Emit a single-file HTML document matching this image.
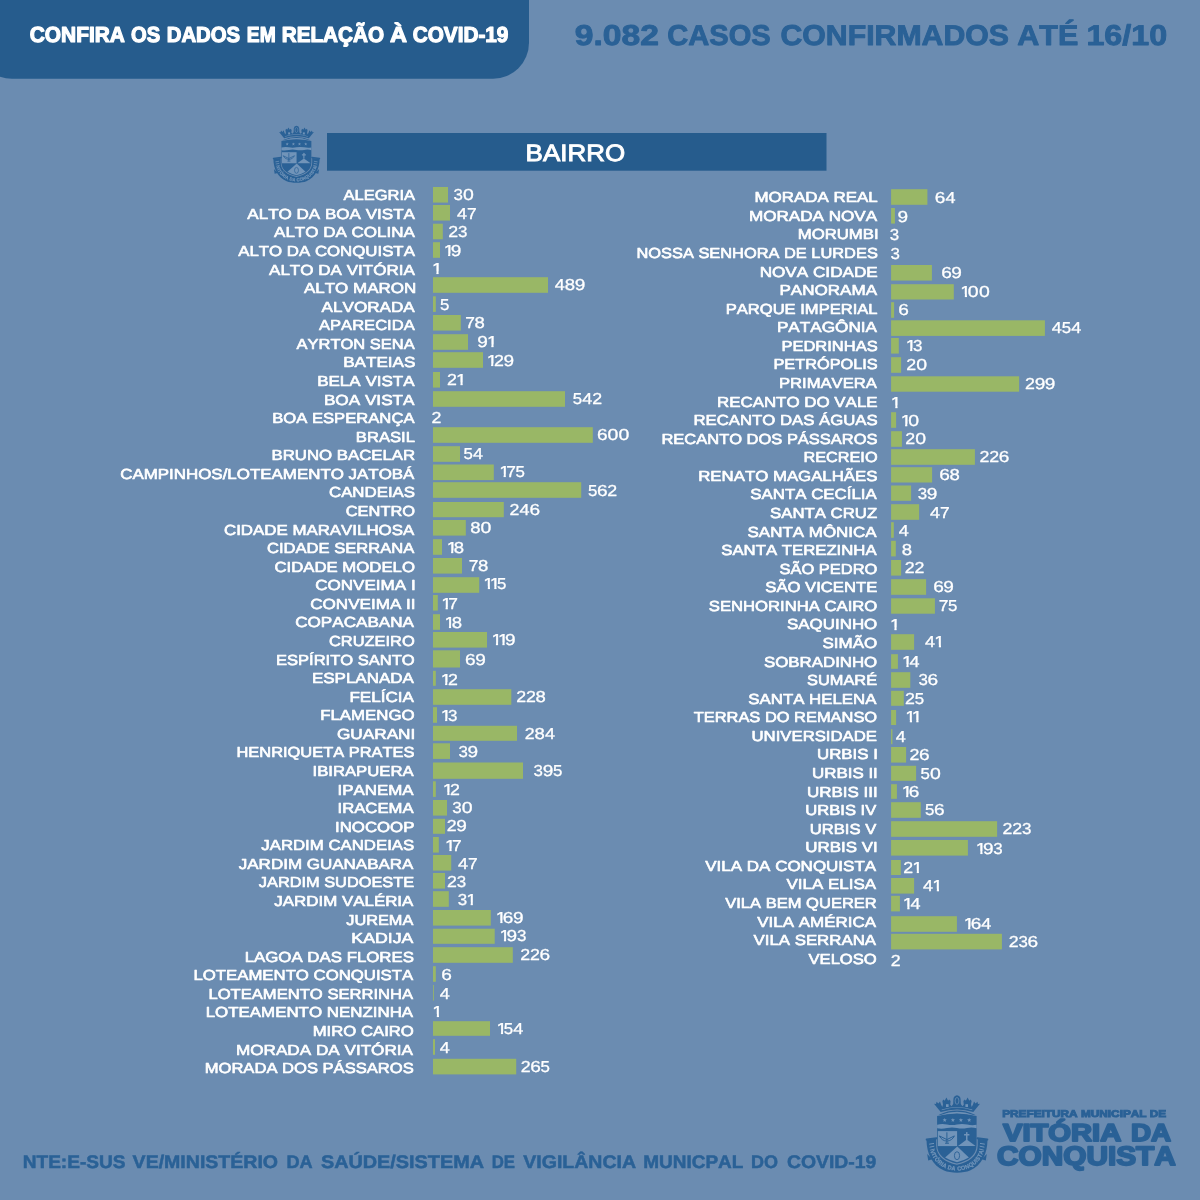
<!DOCTYPE html>
<html lang="pt-BR"><head><meta charset="utf-8"><title>COVID-19 - Bairros</title>
<style>
html,body{margin:0;padding:0;background:#6b8cb1;}
body{width:1200px;height:1200px;overflow:hidden;font-family:"Liberation Sans",sans-serif;}
svg{display:block;will-change:transform;font-family:"Liberation Sans",sans-serif;font-kerning:none;text-rendering:geometricPrecision;}
.lab text{font-size:14.6px;fill:#fff;stroke:#fff;stroke-width:0.65px;stroke-linejoin:round;}
.num text{font-size:15.9px;fill:#fff;stroke:#fff;stroke-width:0.3px;stroke-linejoin:round;}
.bars rect{fill:#99b766;}
</style></head><body>
<svg width="1200" height="1200" viewBox="0 0 1200 1200">
<defs>
<clipPath id="c1"><path d="M-3,-20 H20 V-2.19 H5.60 V1 H3.80 V-2.19 H-3 Z"/></clipPath>
<path id="ribbonpath" d="M5.2,46.5 C5.2,64 17,72.9 31,73.7 C45,72.9 56.8,64 56.8,46.5" fill="none"/>
<g id="crest">
 <g fill="#2a6196" stroke="none">
  <!-- crown -->
  <path d="M14.7,17 L9.6,10.8 L8,8.7 L10,9 L10.6,6.8 L12.4,8.6 L14,6.4 L15,9.4 L16.3,12 L17,9.6 L16.4,6 L17.6,4.4 L18.7,5.7 L20.4,2.6 L22.1,5.7 L23.2,4.4 L24.6,6 L24.2,9.7 L25.6,11.2 L27.2,9 L27.4,4 Q27.7,0.8 31,0.3 Q34.3,0.8 34.6,4 L34.8,9 L36.4,11.2 L37.8,9.7 L37.4,6 L38.8,4.4 L39.9,5.7 L41.6,2.6 L43.3,5.7 L44.4,4.4 L45.6,6 L45,9.6 L45.7,12 L47,9.4 L48,6.4 L49.6,8.6 L51.4,6.8 L52,9 L54,8.7 L52.4,10.8 L47.3,17 Q31,11.8 14.7,17 Z"/>
  <!-- thin arc -->
  <path d="M12.6,19.9 Q31,11.3 49.4,19.9 L47.4,19.9 Q31,13.7 14.6,19.9 Z"/>
  <!-- shield -->
  <path d="M11.1,21 Q31,15.8 50.6,21 V50 C50.6,60.5 42,66.2 30.9,68.4 C19.8,66.2 11.1,60.5 11.1,50 Z"/>
  <!-- ribbon -->
  <path d="M0.5,45 C0.7,58.5 6,70.2 18,75.6 C24.5,78.3 37.5,78.3 44,75.6 C56,70.2 61.3,58.5 61.5,45 L51.7,43.8 V50.2 C51.7,61.2 42.6,67.4 30.9,69.7 C19.3,67.4 10.2,61.2 10.2,50.2 V43.8 Z"/>
  <path d="M1.2,59 L2.2,65.4 L6.4,64.2 Z M60.8,59 L59.8,65.4 L55.6,64.2 Z"/>
 </g>
 <path d="M0.7,44.6 L10.6,43.3 M51.4,43.3 L61.3,44.6" stroke="#2a6196" stroke-width="2" stroke-linecap="round" fill="none"/>
 <g fill="#7194b9" stroke="none">
  <!-- crown details -->
  <rect x="20" y="9.2" width="2.6" height="2.8"/><rect x="39.4" y="9.2" width="2.6" height="2.8"/>
  <path d="M15.6,15.2 Q31,9.9 46.4,15.2 L46.2,14.6 Q31,9.2 15.8,14.6 Z"/>
  <path d="M14.2,20.4 Q31,13.9 47.8,20.4 L48.8,20.6 Q31,15.2 13.2,20.6 Z"/>
  <!-- stars -->
  <path id="st" d="M18.7,22.9 L19.25,24.35 L20.8,24.42 L19.58,25.38 L20,26.9 L18.7,26.02 L17.4,26.9 L17.82,25.38 L16.6,24.42 L18.15,24.35 Z"/>
  <use href="#st" x="8.2"/><use href="#st" x="16.2"/><use href="#st" x="24.5"/>
  <!-- wavy band -->
  <path d="M11.1,29.7 Q16,28.3 21,29.5 T31,29.5 T41,29.5 T50.6,29.7 V33.3 Q46,31.9 41,33 T31,33 T21,33 T11.1,33.3 Z"/>
  <!-- left quadrant -->
  <rect x="11.8" y="36.1" width="19.3" height="15"/>
  <!-- cross + hill -->
  <rect x="40" y="37" width="1.5" height="8" rx="0.6"/><rect x="38" y="39" width="5.5" height="1.5" rx="0.6"/>
  <path d="M40.75,44.6 L49.6,51.1 H32 Z"/>
  <!-- lower triangle -->
  <path d="M31.3,51.4 L42.9,62.6 Q37.4,66 31,67.2 Q24.6,66 19.1,62.6 Z"/>
 </g>
 <path d="M3.2,49.2 L8,48.4 M3.6,52.2 L8.3,51.2 M4.2,55.2 L8.8,54 M58.8,49.2 L54,48.4 M58.4,52.2 L53.7,51.2 M57.8,55.2 L53.2,54" stroke="#7194b9" stroke-width="1" fill="none"/>
 <ellipse cx="31" cy="5.9" rx="1.9" ry="3.4" fill="none" stroke="#7194b9" stroke-width="0.7"/>
 <!-- crossbow + emblem -->
 <g stroke="#2a6196" stroke-width="1" fill="none">
  <path d="M20.9,37.3 V48.4 M13.4,40.9 Q15.6,45.6 20.9,46.2 Q26.2,45.6 28.4,40.9 M13.4,40.9 L20.9,44.6 L28.4,40.9 M19,48.2 H23"/>
  <ellipse cx="31" cy="60.7" rx="2.6" ry="4" stroke-width="0.9"/>
 </g>
 <text font-size="5.9" font-weight="700" fill="#7194b9" stroke="#7194b9" stroke-width="0.25"><textPath href="#ribbonpath" startOffset="50%" text-anchor="middle" textLength="66" lengthAdjust="spacingAndGlyphs"><tspan dy="2.1">VITÓRIA DA CONQUISTA</tspan></textPath></text>
</g>

</defs>
<rect width="1200" height="1200" fill="#6b8cb1"/>
<!-- top-left banner -->
<rect x="-24" y="-40" width="553" height="118.7" rx="36" ry="36" fill="#265c8d"/>
<g font-size="21.8" font-weight="700" fill="#fff" stroke="#fff" stroke-width="1.2" stroke-linejoin="round"><text x="29.74" y="42.00" textLength="95.21" lengthAdjust="spacingAndGlyphs">CONFIRA</text>
<text x="131.02" y="42.00" textLength="29.17" lengthAdjust="spacingAndGlyphs">OS</text>
<text x="166.74" y="42.00" textLength="73.46" lengthAdjust="spacingAndGlyphs">DADOS</text>
<text x="246.81" y="42.00" textLength="28.88" lengthAdjust="spacingAndGlyphs">EM</text>
<text x="281.72" y="42.00" textLength="102.30" lengthAdjust="spacingAndGlyphs">RELAÇÃO</text>
<text x="390.01" y="42.00" textLength="17.01" lengthAdjust="spacingAndGlyphs">À</text>
<text x="412.75" y="42.00" textLength="95.67" lengthAdjust="spacingAndGlyphs">COVID-19</text></g>
<!-- title -->
<g font-size="28.6" font-weight="700" fill="#2a6196" stroke="#2a6196" stroke-width="0.9" stroke-linejoin="round"><text x="574.78" y="44.70" textLength="84.11" lengthAdjust="spacingAndGlyphs">9.082</text>
<text x="667.26" y="44.70" textLength="103.43" lengthAdjust="spacingAndGlyphs">CASOS</text>
<text x="780.46" y="44.70" textLength="228.52" lengthAdjust="spacingAndGlyphs">CONFIRMADOS</text>
<text x="1017.19" y="44.70" textLength="61.05" lengthAdjust="spacingAndGlyphs">ATÉ</text>
<text x="1086.42" y="44.70" textLength="80.70" lengthAdjust="spacingAndGlyphs">16/10</text></g>
<!-- bairro header -->
<rect x="327" y="133" width="499.5" height="37.7" fill="#265c8d"/>
<g font-size="23.6" fill="#fff" stroke="#fff" stroke-width="0.9"><text x="525.62" y="161.00" textLength="99.47" lengthAdjust="spacingAndGlyphs">BAIRRO</text></g>
<use href="#crest" transform="translate(273,125.6) scale(0.758,0.737)"/>
<g class="bars">
<rect x="433.00" y="187.00" width="15.00" height="15.60"/>
<rect x="433.00" y="205.00" width="17.00" height="15.60"/>
<rect x="433.00" y="223.70" width="9.80" height="15.60"/>
<rect x="433.00" y="242.20" width="7.00" height="15.60"/>
<rect x="433.00" y="277.20" width="115.00" height="15.60"/>
<rect x="433.00" y="296.30" width="2.80" height="15.60"/>
<rect x="433.00" y="315.00" width="27.80" height="15.60"/>
<rect x="433.00" y="334.20" width="35.00" height="15.60"/>
<rect x="433.00" y="352.20" width="50.00" height="15.60"/>
<rect x="433.00" y="372.00" width="7.00" height="15.60"/>
<rect x="433.00" y="391.20" width="132.00" height="15.60"/>
<rect x="433.00" y="427.20" width="159.80" height="15.60"/>
<rect x="433.00" y="446.20" width="27.00" height="15.60"/>
<rect x="433.00" y="464.50" width="60.80" height="15.60"/>
<rect x="433.00" y="482.20" width="148.20" height="15.60"/>
<rect x="433.00" y="502.00" width="70.80" height="15.20"/>
<rect x="433.00" y="520.00" width="32.80" height="15.60"/>
<rect x="433.00" y="539.20" width="9.00" height="15.60"/>
<rect x="433.00" y="558.00" width="29.00" height="15.60"/>
<rect x="433.00" y="577.20" width="46.20" height="15.60"/>
<rect x="433.00" y="595.00" width="4.80" height="15.60"/>
<rect x="433.00" y="614.20" width="7.00" height="15.60"/>
<rect x="433.00" y="632.00" width="54.00" height="15.60"/>
<rect x="433.00" y="650.30" width="27.00" height="17.20"/>
<rect x="433.00" y="670.80" width="2.80" height="15.00"/>
<rect x="433.00" y="689.20" width="78.30" height="15.60"/>
<rect x="433.00" y="707.20" width="4.00" height="15.60"/>
<rect x="433.00" y="725.80" width="84.00" height="15.00"/>
<rect x="433.00" y="743.30" width="17.00" height="15.60"/>
<rect x="433.00" y="762.50" width="90.00" height="16.30"/>
<rect x="433.00" y="781.30" width="2.80" height="15.60"/>
<rect x="433.00" y="800.00" width="14.00" height="15.60"/>
<rect x="433.00" y="818.80" width="12.00" height="15.00"/>
<rect x="433.00" y="837.00" width="5.80" height="15.60"/>
<rect x="433.00" y="855.00" width="18.20" height="15.60"/>
<rect x="433.00" y="873.00" width="12.00" height="15.60"/>
<rect x="433.00" y="891.20" width="15.80" height="15.60"/>
<rect x="433.00" y="910.00" width="57.80" height="15.60"/>
<rect x="433.00" y="928.70" width="61.70" height="15.10"/>
<rect x="433.00" y="947.20" width="79.80" height="15.60"/>
<rect x="433.00" y="966.20" width="2.80" height="15.60"/>
<rect x="433.00" y="985.00" width="0.80" height="15.60"/>
<rect x="433.00" y="1021.20" width="57.00" height="14.60"/>
<rect x="433.00" y="1039.20" width="2.00" height="15.60"/>
<rect x="433.00" y="1058.80" width="83.20" height="15.60"/>
<rect x="891.10" y="189.20" width="36.30" height="15.60"/>
<rect x="891.10" y="208.00" width="3.80" height="15.60"/>
<rect x="891.10" y="265.00" width="40.80" height="15.60"/>
<rect x="891.10" y="284.20" width="62.70" height="15.30"/>
<rect x="891.10" y="302.20" width="3.00" height="15.60"/>
<rect x="891.10" y="320.30" width="153.80" height="15.60"/>
<rect x="891.10" y="338.00" width="7.70" height="15.60"/>
<rect x="891.10" y="357.20" width="10.00" height="15.60"/>
<rect x="891.10" y="376.30" width="128.00" height="15.40"/>
<rect x="891.10" y="412.20" width="5.00" height="15.60"/>
<rect x="891.10" y="431.20" width="10.80" height="15.60"/>
<rect x="891.10" y="449.20" width="83.80" height="15.60"/>
<rect x="891.10" y="467.20" width="41.00" height="15.30"/>
<rect x="891.10" y="485.50" width="20.00" height="15.30"/>
<rect x="891.10" y="504.20" width="28.00" height="15.60"/>
<rect x="891.10" y="522.20" width="2.70" height="15.60"/>
<rect x="891.10" y="540.80" width="4.70" height="15.60"/>
<rect x="891.10" y="560.00" width="10.00" height="15.60"/>
<rect x="891.10" y="579.20" width="35.00" height="15.60"/>
<rect x="891.10" y="598.30" width="43.80" height="15.40"/>
<rect x="891.10" y="634.20" width="23.00" height="15.60"/>
<rect x="891.10" y="654.20" width="6.80" height="14.60"/>
<rect x="891.10" y="672.20" width="19.20" height="15.60"/>
<rect x="891.10" y="690.80" width="12.70" height="15.00"/>
<rect x="891.10" y="710.00" width="5.00" height="15.00"/>
<rect x="891.10" y="729.20" width="1.30" height="15.00"/>
<rect x="891.10" y="747.00" width="15.00" height="15.60"/>
<rect x="891.10" y="765.80" width="25.00" height="15.00"/>
<rect x="891.10" y="784.20" width="5.80" height="14.60"/>
<rect x="891.10" y="802.20" width="29.70" height="15.60"/>
<rect x="891.10" y="821.20" width="106.00" height="15.60"/>
<rect x="891.10" y="840.00" width="76.80" height="15.60"/>
<rect x="891.10" y="860.00" width="9.70" height="15.00"/>
<rect x="891.10" y="878.00" width="23.00" height="15.60"/>
<rect x="891.10" y="895.80" width="8.80" height="15.60"/>
<rect x="891.10" y="916.20" width="65.80" height="15.60"/>
<rect x="891.10" y="933.80" width="110.80" height="15.60"/>
</g>
<g class="lab">
<text x="343.54" y="200.20" textLength="71.46" lengthAdjust="spacingAndGlyphs">ALEGRIA</text>
<text x="247.29" y="218.77" textLength="167.67" lengthAdjust="spacingAndGlyphs">ALTO DA BOA VISTA</text>
<text x="274.04" y="237.35" textLength="140.88" lengthAdjust="spacingAndGlyphs">ALTO DA COLINA</text>
<text x="238.29" y="255.92" textLength="176.59" lengthAdjust="spacingAndGlyphs">ALTO DA CONQUISTA</text>
<text x="269.04" y="274.50" textLength="145.79" lengthAdjust="spacingAndGlyphs">ALTO DA VITÓRIA</text>
<text x="304.04" y="293.07" textLength="112.10" lengthAdjust="spacingAndGlyphs">ALTO MARON</text>
<text x="321.54" y="311.64" textLength="93.21" lengthAdjust="spacingAndGlyphs">ALVORADA</text>
<text x="319.04" y="330.22" textLength="95.66" lengthAdjust="spacingAndGlyphs">APARECIDA</text>
<text x="296.54" y="348.79" textLength="118.12" lengthAdjust="spacingAndGlyphs">AYRTON SENA</text>
<text x="343.17" y="367.37" textLength="72.20" lengthAdjust="spacingAndGlyphs">BATEIAS</text>
<text x="317.18" y="385.94" textLength="97.40" lengthAdjust="spacingAndGlyphs">BELA VISTA</text>
<text x="323.92" y="404.51" textLength="90.62" lengthAdjust="spacingAndGlyphs">BOA VISTA</text>
<text x="272.21" y="423.09" textLength="142.28" lengthAdjust="spacingAndGlyphs">BOA ESPERANÇA</text>
<text x="355.86" y="441.66" textLength="59.11" lengthAdjust="spacingAndGlyphs">BRASIL</text>
<text x="271.45" y="460.24" textLength="143.70" lengthAdjust="spacingAndGlyphs">BRUNO BACELAR</text>
<text x="120.22" y="478.81" textLength="294.15" lengthAdjust="spacingAndGlyphs">CAMPINHOS/LOTEAMENTO JATOBÁ</text>
<text x="328.97" y="497.38" textLength="86.09" lengthAdjust="spacingAndGlyphs">CANDEIAS</text>
<text x="345.74" y="515.96" textLength="69.29" lengthAdjust="spacingAndGlyphs">CENTRO</text>
<text x="223.97" y="534.53" textLength="190.27" lengthAdjust="spacingAndGlyphs">CIDADE MARAVILHOSA</text>
<text x="266.98" y="553.11" textLength="147.21" lengthAdjust="spacingAndGlyphs">CIDADE SERRANA</text>
<text x="274.47" y="571.68" textLength="140.44" lengthAdjust="spacingAndGlyphs">CIDADE MODELO</text>
<text x="315.21" y="590.25" textLength="100.44" lengthAdjust="spacingAndGlyphs">CONVEIMA I</text>
<text x="310.21" y="608.83" textLength="105.40" lengthAdjust="spacingAndGlyphs">CONVEIMA II</text>
<text x="295.21" y="627.40" textLength="118.81" lengthAdjust="spacingAndGlyphs">COPACABANA</text>
<text x="328.99" y="645.98" textLength="85.74" lengthAdjust="spacingAndGlyphs">CRUZEIRO</text>
<text x="275.97" y="664.55" textLength="138.72" lengthAdjust="spacingAndGlyphs">ESPÍRITO SANTO</text>
<text x="311.93" y="683.12" textLength="101.96" lengthAdjust="spacingAndGlyphs">ESPLANADA</text>
<text x="349.43" y="701.70" textLength="64.42" lengthAdjust="spacingAndGlyphs">FELÍCIA</text>
<text x="320.20" y="720.27" textLength="94.38" lengthAdjust="spacingAndGlyphs">FLAMENGO</text>
<text x="336.96" y="738.85" textLength="78.36" lengthAdjust="spacingAndGlyphs">GUARANI</text>
<text x="236.48" y="757.42" textLength="177.96" lengthAdjust="spacingAndGlyphs">HENRIQUETA PRATES</text>
<text x="312.53" y="775.99" textLength="101.14" lengthAdjust="spacingAndGlyphs">IBIRAPUERA</text>
<text x="337.51" y="794.57" textLength="76.12" lengthAdjust="spacingAndGlyphs">IPANEMA</text>
<text x="337.53" y="813.14" textLength="76.05" lengthAdjust="spacingAndGlyphs">IRACEMA</text>
<text x="335.02" y="831.72" textLength="79.38" lengthAdjust="spacingAndGlyphs">INOCOOP</text>
<text x="261.31" y="850.29" textLength="152.93" lengthAdjust="spacingAndGlyphs">JARDIM CANDEIAS</text>
<text x="238.81" y="868.86" textLength="174.65" lengthAdjust="spacingAndGlyphs">JARDIM GUANABARA</text>
<text x="258.82" y="887.44" textLength="155.27" lengthAdjust="spacingAndGlyphs">JARDIM SUDOESTE</text>
<text x="274.31" y="906.01" textLength="139.06" lengthAdjust="spacingAndGlyphs">JARDIM VALÉRIA</text>
<text x="346.32" y="924.59" textLength="67.01" lengthAdjust="spacingAndGlyphs">JUREMA</text>
<text x="351.37" y="943.16" textLength="61.92" lengthAdjust="spacingAndGlyphs">KADIJA</text>
<text x="244.69" y="961.73" textLength="169.29" lengthAdjust="spacingAndGlyphs">LAGOA DAS FLORES</text>
<text x="193.45" y="980.31" textLength="219.75" lengthAdjust="spacingAndGlyphs">LOTEAMENTO CONQUISTA</text>
<text x="208.46" y="998.88" textLength="204.69" lengthAdjust="spacingAndGlyphs">LOTEAMENTO SERRINHA</text>
<text x="205.69" y="1017.46" textLength="207.43" lengthAdjust="spacingAndGlyphs">LOTEAMENTO NENZINHA</text>
<text x="312.71" y="1036.03" textLength="101.13" lengthAdjust="spacingAndGlyphs">MIRO CAIRO</text>
<text x="235.92" y="1054.60" textLength="177.11" lengthAdjust="spacingAndGlyphs">MORADA DA VITÓRIA</text>
<text x="204.72" y="1073.18" textLength="209.00" lengthAdjust="spacingAndGlyphs">MORADA DOS PÁSSAROS</text>
<text x="754.44" y="202.30" textLength="123.30" lengthAdjust="spacingAndGlyphs">MORADA REAL</text>
<text x="748.92" y="220.87" textLength="128.26" lengthAdjust="spacingAndGlyphs">MORADA NOVA</text>
<text x="797.70" y="239.44" textLength="80.96" lengthAdjust="spacingAndGlyphs">MORUMBI</text>
<text x="636.48" y="258.01" textLength="241.36" lengthAdjust="spacingAndGlyphs">NOSSA SENHORA DE LURDES</text>
<text x="759.67" y="276.58" textLength="118.12" lengthAdjust="spacingAndGlyphs">NOVA CIDADE</text>
<text x="779.43" y="295.15" textLength="97.63" lengthAdjust="spacingAndGlyphs">PANORAMA</text>
<text x="725.72" y="313.72" textLength="151.83" lengthAdjust="spacingAndGlyphs">PARQUE IMPERIAL</text>
<text x="776.92" y="332.29" textLength="100.08" lengthAdjust="spacingAndGlyphs">PATAGÔNIA</text>
<text x="781.47" y="350.86" textLength="96.22" lengthAdjust="spacingAndGlyphs">PEDRINHAS</text>
<text x="773.49" y="369.43" textLength="104.17" lengthAdjust="spacingAndGlyphs">PETRÓPOLIS</text>
<text x="778.96" y="388.00" textLength="97.95" lengthAdjust="spacingAndGlyphs">PRIMAVERA</text>
<text x="716.94" y="406.57" textLength="160.63" lengthAdjust="spacingAndGlyphs">RECANTO DO VALE</text>
<text x="693.45" y="425.14" textLength="184.13" lengthAdjust="spacingAndGlyphs">RECANTO DAS ÁGUAS</text>
<text x="661.47" y="443.71" textLength="216.07" lengthAdjust="spacingAndGlyphs">RECANTO DOS PÁSSAROS</text>
<text x="803.49" y="462.28" textLength="74.04" lengthAdjust="spacingAndGlyphs">RECREIO</text>
<text x="698.20" y="480.85" textLength="179.30" lengthAdjust="spacingAndGlyphs">RENATO MAGALHÃES</text>
<text x="750.31" y="499.42" textLength="126.42" lengthAdjust="spacingAndGlyphs">SANTA CECÍLIA</text>
<text x="770.06" y="517.99" textLength="107.13" lengthAdjust="spacingAndGlyphs">SANTA CRUZ</text>
<text x="747.55" y="536.56" textLength="129.11" lengthAdjust="spacingAndGlyphs">SANTA MÔNICA</text>
<text x="721.31" y="555.13" textLength="155.32" lengthAdjust="spacingAndGlyphs">SANTA TEREZINHA</text>
<text x="779.58" y="573.70" textLength="97.78" lengthAdjust="spacingAndGlyphs">SÃO PEDRO</text>
<text x="765.32" y="592.27" textLength="111.94" lengthAdjust="spacingAndGlyphs">SÃO VICENTE</text>
<text x="708.82" y="610.84" textLength="168.49" lengthAdjust="spacingAndGlyphs">SENHORINHA CAIRO</text>
<text x="787.06" y="629.41" textLength="90.24" lengthAdjust="spacingAndGlyphs">SAQUINHO</text>
<text x="822.55" y="647.98" textLength="54.71" lengthAdjust="spacingAndGlyphs">SIMÃO</text>
<text x="764.06" y="666.55" textLength="113.17" lengthAdjust="spacingAndGlyphs">SOBRADINHO</text>
<text x="807.08" y="685.12" textLength="70.02" lengthAdjust="spacingAndGlyphs">SUMARÉ</text>
<text x="748.31" y="703.69" textLength="128.09" lengthAdjust="spacingAndGlyphs">SANTA HELENA</text>
<text x="693.71" y="722.26" textLength="183.41" lengthAdjust="spacingAndGlyphs">TERRAS DO REMANSO</text>
<text x="751.53" y="740.83" textLength="125.49" lengthAdjust="spacingAndGlyphs">UNIVERSIDADE</text>
<text x="817.03" y="759.40" textLength="60.80" lengthAdjust="spacingAndGlyphs">URBIS I</text>
<text x="812.02" y="777.97" textLength="65.79" lengthAdjust="spacingAndGlyphs">URBIS II</text>
<text x="807.01" y="796.54" textLength="70.77" lengthAdjust="spacingAndGlyphs">URBIS III</text>
<text x="805.30" y="815.11" textLength="70.96" lengthAdjust="spacingAndGlyphs">URBIS IV</text>
<text x="809.79" y="833.68" textLength="66.43" lengthAdjust="spacingAndGlyphs">URBIS V</text>
<text x="805.27" y="852.25" textLength="72.42" lengthAdjust="spacingAndGlyphs">URBIS VI</text>
<text x="705.25" y="870.82" textLength="170.88" lengthAdjust="spacingAndGlyphs">VILA DA CONQUISTA</text>
<text x="786.50" y="889.39" textLength="89.60" lengthAdjust="spacingAndGlyphs">VILA ELISA</text>
<text x="725.25" y="907.96" textLength="151.55" lengthAdjust="spacingAndGlyphs">VILA BEM QUERER</text>
<text x="757.25" y="926.53" textLength="118.79" lengthAdjust="spacingAndGlyphs">VILA AMÉRICA</text>
<text x="753.50" y="945.10" textLength="122.51" lengthAdjust="spacingAndGlyphs">VILA SERRANA</text>
<text x="808.50" y="963.67" textLength="68.24" lengthAdjust="spacingAndGlyphs">VELOSO</text>
</g>
<g class="num">
<g><text transform="translate(453.61,200.10) scale(1.061,1)">3</text><text transform="translate(462.99,200.10) scale(1.224,1)">0</text></g>
<g><text transform="translate(457.04,219.00) scale(1.136,1)">4</text><text transform="translate(466.91,219.00) scale(1.093,1)">7</text></g>
<g><text transform="translate(448.26,237.00) scale(1.118,1)">2</text><text transform="translate(458.01,237.00) scale(1.061,1)">3</text></g>
<g><text clip-path="url(#c1)" transform="translate(443.63,255.60) scale(1.187,1)">1</text><text transform="translate(450.81,255.60) scale(1.198,1)">9</text></g>
<g><text clip-path="url(#c1)" transform="translate(431.93,273.60) scale(1.187,1)">1</text></g>
<g><text transform="translate(554.74,289.80) scale(1.136,1)">4</text><text transform="translate(564.74,289.80) scale(1.166,1)">8</text><text transform="translate(574.71,289.80) scale(1.198,1)">9</text></g>
<g><text transform="translate(440.07,309.80) scale(1.061,1)">5</text></g>
<g><text transform="translate(465.36,327.80) scale(1.093,1)">7</text><text transform="translate(474.59,327.80) scale(1.166,1)">8</text></g>
<g><text transform="translate(477.36,346.80) scale(1.198,1)">9</text><text clip-path="url(#c1)" transform="translate(486.88,346.80) scale(1.187,1)">1</text></g>
<g><text clip-path="url(#c1)" transform="translate(486.63,365.60) scale(1.187,1)">1</text><text transform="translate(493.91,365.60) scale(1.118,1)">2</text><text transform="translate(503.51,365.60) scale(1.198,1)">9</text></g>
<g><text transform="translate(447.06,384.80) scale(1.118,1)">2</text><text clip-path="url(#c1)" transform="translate(455.98,384.80) scale(1.187,1)">1</text></g>
<g><text transform="translate(572.77,404.00) scale(1.061,1)">5</text><text transform="translate(582.24,404.00) scale(1.136,1)">4</text><text transform="translate(592.31,404.00) scale(1.118,1)">2</text></g>
<g><text transform="translate(431.56,422.80) scale(1.118,1)">2</text></g>
<g><text transform="translate(596.98,439.80) scale(1.199,1)">6</text><text transform="translate(607.49,439.80) scale(1.224,1)">0</text><text transform="translate(618.59,439.80) scale(1.224,1)">0</text></g>
<g><text transform="translate(463.47,458.60) scale(1.061,1)">5</text><text transform="translate(472.94,458.60) scale(1.136,1)">4</text></g>
<g><text clip-path="url(#c1)" transform="translate(499.13,476.50) scale(1.187,1)">1</text><text transform="translate(506.21,476.50) scale(1.093,1)">7</text><text transform="translate(515.47,476.50) scale(1.061,1)">5</text></g>
<g><text transform="translate(588.07,496.00) scale(1.061,1)">5</text><text transform="translate(596.93,496.00) scale(1.199,1)">6</text><text transform="translate(607.21,496.00) scale(1.118,1)">2</text></g>
<g><text transform="translate(509.56,514.50) scale(1.118,1)">2</text><text transform="translate(519.59,514.50) scale(1.136,1)">4</text><text transform="translate(529.38,514.50) scale(1.199,1)">6</text></g>
<g><text transform="translate(470.14,532.80) scale(1.166,1)">8</text><text transform="translate(480.44,532.80) scale(1.224,1)">0</text></g>
<g><text clip-path="url(#c1)" transform="translate(446.63,552.80) scale(1.187,1)">1</text><text transform="translate(453.84,552.80) scale(1.166,1)">8</text></g>
<g><text transform="translate(468.76,570.60) scale(1.093,1)">7</text><text transform="translate(477.99,570.60) scale(1.166,1)">8</text></g>
<g><text clip-path="url(#c1)" transform="translate(483.33,588.60) scale(1.187,1)">1</text><text clip-path="url(#c1)" transform="translate(489.83,588.60) scale(1.187,1)">1</text><text transform="translate(497.07,588.60) scale(1.061,1)">5</text></g>
<g><text clip-path="url(#c1)" transform="translate(441.13,609.30) scale(1.187,1)">1</text><text transform="translate(448.21,609.30) scale(1.093,1)">7</text></g>
<g><text clip-path="url(#c1)" transform="translate(444.43,627.60) scale(1.187,1)">1</text><text transform="translate(451.64,627.60) scale(1.166,1)">8</text></g>
<g><text clip-path="url(#c1)" transform="translate(491.43,644.80) scale(1.187,1)">1</text><text clip-path="url(#c1)" transform="translate(497.93,644.80) scale(1.187,1)">1</text><text transform="translate(505.11,644.80) scale(1.198,1)">9</text></g>
<g><text transform="translate(464.98,664.80) scale(1.199,1)">6</text><text transform="translate(475.16,664.80) scale(1.198,1)">9</text></g>
<g><text clip-path="url(#c1)" transform="translate(440.63,684.50) scale(1.187,1)">1</text><text transform="translate(447.91,684.50) scale(1.118,1)">2</text></g>
<g><text transform="translate(516.26,701.50) scale(1.118,1)">2</text><text transform="translate(525.96,701.50) scale(1.118,1)">2</text><text transform="translate(535.59,701.50) scale(1.166,1)">8</text></g>
<g><text clip-path="url(#c1)" transform="translate(440.63,720.60) scale(1.187,1)">1</text><text transform="translate(447.96,720.60) scale(1.061,1)">3</text></g>
<g><text transform="translate(524.86,738.50) scale(1.118,1)">2</text><text transform="translate(534.49,738.50) scale(1.166,1)">8</text><text transform="translate(544.89,738.50) scale(1.136,1)">4</text></g>
<g><text transform="translate(458.51,756.80) scale(1.061,1)">3</text><text transform="translate(467.56,756.80) scale(1.198,1)">9</text></g>
<g><text transform="translate(533.61,775.60) scale(1.061,1)">3</text><text transform="translate(542.66,775.60) scale(1.198,1)">9</text><text transform="translate(552.92,775.60) scale(1.061,1)">5</text></g>
<g><text clip-path="url(#c1)" transform="translate(442.83,794.50) scale(1.187,1)">1</text><text transform="translate(450.11,794.50) scale(1.118,1)">2</text></g>
<g><text transform="translate(452.31,812.80) scale(1.061,1)">3</text><text transform="translate(461.69,812.80) scale(1.224,1)">0</text></g>
<g><text transform="translate(446.76,831.00) scale(1.118,1)">2</text><text transform="translate(456.36,831.00) scale(1.198,1)">9</text></g>
<g><text clip-path="url(#c1)" transform="translate(444.93,850.60) scale(1.187,1)">1</text><text transform="translate(452.01,850.60) scale(1.093,1)">7</text></g>
<g><text transform="translate(458.04,868.60) scale(1.136,1)">4</text><text transform="translate(467.91,868.60) scale(1.093,1)">7</text></g>
<g><text transform="translate(447.06,886.80) scale(1.118,1)">2</text><text transform="translate(456.81,886.80) scale(1.061,1)">3</text></g>
<g><text transform="translate(457.81,904.80) scale(1.061,1)">3</text><text clip-path="url(#c1)" transform="translate(466.18,904.80) scale(1.187,1)">1</text></g>
<g><text clip-path="url(#c1)" transform="translate(495.83,922.60) scale(1.187,1)">1</text><text transform="translate(502.83,922.60) scale(1.199,1)">6</text><text transform="translate(513.01,922.60) scale(1.198,1)">9</text></g>
<g><text clip-path="url(#c1)" transform="translate(499.43,941.10) scale(1.187,1)">1</text><text transform="translate(506.61,941.10) scale(1.198,1)">9</text><text transform="translate(516.96,941.10) scale(1.061,1)">3</text></g>
<g><text transform="translate(520.36,959.50) scale(1.118,1)">2</text><text transform="translate(530.06,959.50) scale(1.118,1)">2</text><text transform="translate(539.48,959.50) scale(1.199,1)">6</text></g>
<g><text transform="translate(441.18,979.50) scale(1.199,1)">6</text></g>
<g><text transform="translate(439.74,998.60) scale(1.136,1)">4</text></g>
<g><text clip-path="url(#c1)" transform="translate(432.33,1016.50) scale(1.187,1)">1</text></g>
<g><text clip-path="url(#c1)" transform="translate(496.43,1033.60) scale(1.187,1)">1</text><text transform="translate(503.67,1033.60) scale(1.061,1)">5</text><text transform="translate(513.14,1033.60) scale(1.136,1)">4</text></g>
<g><text transform="translate(439.74,1052.80) scale(1.136,1)">4</text></g>
<g><text transform="translate(520.76,1071.50) scale(1.118,1)">2</text><text transform="translate(530.18,1071.50) scale(1.199,1)">6</text><text transform="translate(540.42,1071.50) scale(1.061,1)">5</text></g>
<g><text transform="translate(934.78,202.80) scale(1.199,1)">6</text><text transform="translate(945.39,202.80) scale(1.136,1)">4</text></g>
<g><text transform="translate(897.56,221.50) scale(1.198,1)">9</text></g>
<g><text transform="translate(889.81,239.80) scale(1.061,1)">3</text></g>
<g><text transform="translate(890.61,258.60) scale(1.061,1)">3</text></g>
<g><text transform="translate(941.18,277.80) scale(1.199,1)">6</text><text transform="translate(951.36,277.80) scale(1.198,1)">9</text></g>
<g><text clip-path="url(#c1)" transform="translate(960.33,296.50) scale(1.187,1)">1</text><text transform="translate(967.84,296.50) scale(1.224,1)">0</text><text transform="translate(978.94,296.50) scale(1.224,1)">0</text></g>
<g><text transform="translate(898.18,314.50) scale(1.199,1)">6</text></g>
<g><text transform="translate(1051.74,332.60) scale(1.136,1)">4</text><text transform="translate(1061.77,332.60) scale(1.061,1)">5</text><text transform="translate(1071.24,332.60) scale(1.136,1)">4</text></g>
<g><text clip-path="url(#c1)" transform="translate(905.63,350.60) scale(1.187,1)">1</text><text transform="translate(912.96,350.60) scale(1.061,1)">3</text></g>
<g><text transform="translate(906.26,370.30) scale(1.118,1)">2</text><text transform="translate(916.19,370.30) scale(1.224,1)">0</text></g>
<g><text transform="translate(1025.06,389.00) scale(1.118,1)">2</text><text transform="translate(1034.66,389.00) scale(1.198,1)">9</text><text transform="translate(1044.86,389.00) scale(1.198,1)">9</text></g>
<g><text clip-path="url(#c1)" transform="translate(890.83,407.80) scale(1.187,1)">1</text></g>
<g><text clip-path="url(#c1)" transform="translate(900.63,426.00) scale(1.187,1)">1</text><text transform="translate(908.14,426.00) scale(1.224,1)">0</text></g>
<g><text transform="translate(905.36,444.00) scale(1.118,1)">2</text><text transform="translate(915.29,444.00) scale(1.224,1)">0</text></g>
<g><text transform="translate(979.56,461.80) scale(1.118,1)">2</text><text transform="translate(989.26,461.80) scale(1.118,1)">2</text><text transform="translate(998.68,461.80) scale(1.199,1)">6</text></g>
<g><text transform="translate(939.18,480.10) scale(1.199,1)">6</text><text transform="translate(949.39,480.10) scale(1.166,1)">8</text></g>
<g><text transform="translate(917.81,499.00) scale(1.061,1)">3</text><text transform="translate(926.86,499.00) scale(1.198,1)">9</text></g>
<g><text transform="translate(930.04,517.80) scale(1.136,1)">4</text><text transform="translate(939.91,517.80) scale(1.093,1)">7</text></g>
<g><text transform="translate(898.74,535.60) scale(1.136,1)">4</text></g>
<g><text transform="translate(901.84,554.80) scale(1.166,1)">8</text></g>
<g><text transform="translate(904.86,572.80) scale(1.118,1)">2</text><text transform="translate(914.56,572.80) scale(1.118,1)">2</text></g>
<g><text transform="translate(933.18,591.50) scale(1.199,1)">6</text><text transform="translate(943.36,591.50) scale(1.198,1)">9</text></g>
<g><text transform="translate(938.76,610.60) scale(1.093,1)">7</text><text transform="translate(948.02,610.60) scale(1.061,1)">5</text></g>
<g><text clip-path="url(#c1)" transform="translate(889.93,629.80) scale(1.187,1)">1</text></g>
<g><text transform="translate(925.04,647.00) scale(1.136,1)">4</text><text clip-path="url(#c1)" transform="translate(934.33,647.00) scale(1.187,1)">1</text></g>
<g><text clip-path="url(#c1)" transform="translate(901.93,666.50) scale(1.187,1)">1</text><text transform="translate(909.54,666.50) scale(1.136,1)">4</text></g>
<g><text transform="translate(918.51,684.80) scale(1.061,1)">3</text><text transform="translate(927.38,684.80) scale(1.199,1)">6</text></g>
<g><text transform="translate(905.06,703.50) scale(1.118,1)">2</text><text transform="translate(914.72,703.50) scale(1.061,1)">5</text></g>
<g><text clip-path="url(#c1)" transform="translate(905.33,722.30) scale(1.187,1)">1</text><text clip-path="url(#c1)" transform="translate(911.83,722.30) scale(1.187,1)">1</text></g>
<g><text transform="translate(895.84,742.00) scale(1.136,1)">4</text></g>
<g><text transform="translate(909.56,759.80) scale(1.118,1)">2</text><text transform="translate(918.98,759.80) scale(1.199,1)">6</text></g>
<g><text transform="translate(920.57,779.00) scale(1.061,1)">5</text><text transform="translate(929.94,779.00) scale(1.224,1)">0</text></g>
<g><text clip-path="url(#c1)" transform="translate(901.63,796.80) scale(1.187,1)">1</text><text transform="translate(908.63,796.80) scale(1.199,1)">6</text></g>
<g><text transform="translate(925.07,814.80) scale(1.061,1)">5</text><text transform="translate(933.93,814.80) scale(1.199,1)">6</text></g>
<g><text transform="translate(1002.56,834.00) scale(1.118,1)">2</text><text transform="translate(1012.26,834.00) scale(1.118,1)">2</text><text transform="translate(1022.01,834.00) scale(1.061,1)">3</text></g>
<g><text clip-path="url(#c1)" transform="translate(975.83,853.50) scale(1.187,1)">1</text><text transform="translate(983.01,853.50) scale(1.198,1)">9</text><text transform="translate(993.36,853.50) scale(1.061,1)">3</text></g>
<g><text transform="translate(903.36,872.60) scale(1.118,1)">2</text><text clip-path="url(#c1)" transform="translate(912.28,872.60) scale(1.187,1)">1</text></g>
<g><text transform="translate(923.04,891.00) scale(1.136,1)">4</text><text clip-path="url(#c1)" transform="translate(932.33,891.00) scale(1.187,1)">1</text></g>
<g><text clip-path="url(#c1)" transform="translate(902.83,909.00) scale(1.187,1)">1</text><text transform="translate(910.44,909.00) scale(1.136,1)">4</text></g>
<g><text clip-path="url(#c1)" transform="translate(963.63,929.00) scale(1.187,1)">1</text><text transform="translate(970.63,929.00) scale(1.199,1)">6</text><text transform="translate(981.24,929.00) scale(1.136,1)">4</text></g>
<g><text transform="translate(1008.76,946.80) scale(1.118,1)">2</text><text transform="translate(1018.51,946.80) scale(1.061,1)">3</text><text transform="translate(1027.38,946.80) scale(1.199,1)">6</text></g>
<g><text transform="translate(890.86,966.00) scale(1.118,1)">2</text></g>
</g>
<!-- footer -->
<g font-size="18.2" font-weight="700" fill="#2a6196" stroke="#2a6196" stroke-width="0.5"><text x="22.72" y="1168.00" textLength="102.77" lengthAdjust="spacingAndGlyphs">NTE:E-SUS</text>
<text x="132.62" y="1168.00" textLength="145.45" lengthAdjust="spacingAndGlyphs">VE/MINISTÉRIO</text>
<text x="286.54" y="1168.00" textLength="26.19" lengthAdjust="spacingAndGlyphs">DA</text>
<text x="320.93" y="1168.00" textLength="163.09" lengthAdjust="spacingAndGlyphs">SAÚDE/SISTEMA</text>
<text x="491.63" y="1168.00" textLength="23.28" lengthAdjust="spacingAndGlyphs">DE</text>
<text x="523.37" y="1168.00" textLength="112.65" lengthAdjust="spacingAndGlyphs">VIGILÂNCIA</text>
<text x="643.23" y="1168.00" textLength="100.10" lengthAdjust="spacingAndGlyphs">MUNICPAL</text>
<text x="751.05" y="1168.00" textLength="26.96" lengthAdjust="spacingAndGlyphs">DO</text>
<text x="786.96" y="1168.00" textLength="89.26" lengthAdjust="spacingAndGlyphs">COVID-19</text></g>
<use href="#crest" transform="translate(926,1095)"/>
<g font-weight="700" fill="#2a6196" stroke="#2a6196">
<g font-size="9.8" stroke-width="0.9"><text x="1002.16" y="1116.50" textLength="164.10" lengthAdjust="spacingAndGlyphs">PREFEITURA MUNICIPAL DE</text></g>
<g font-size="24.6" stroke-width="1.9" stroke-linejoin="round"><text x="1002.95" y="1140.65" textLength="118.37" lengthAdjust="spacingAndGlyphs">VITÓRIA</text>
<text x="1131.00" y="1140.65" textLength="40.04" lengthAdjust="spacingAndGlyphs">DA</text></g>
<g font-size="26.7" stroke-width="1.9" stroke-linejoin="round"><text x="996.93" y="1165.30" textLength="178.91" lengthAdjust="spacingAndGlyphs">CONQUISTA</text></g>
</g>
</svg>
</body></html>
